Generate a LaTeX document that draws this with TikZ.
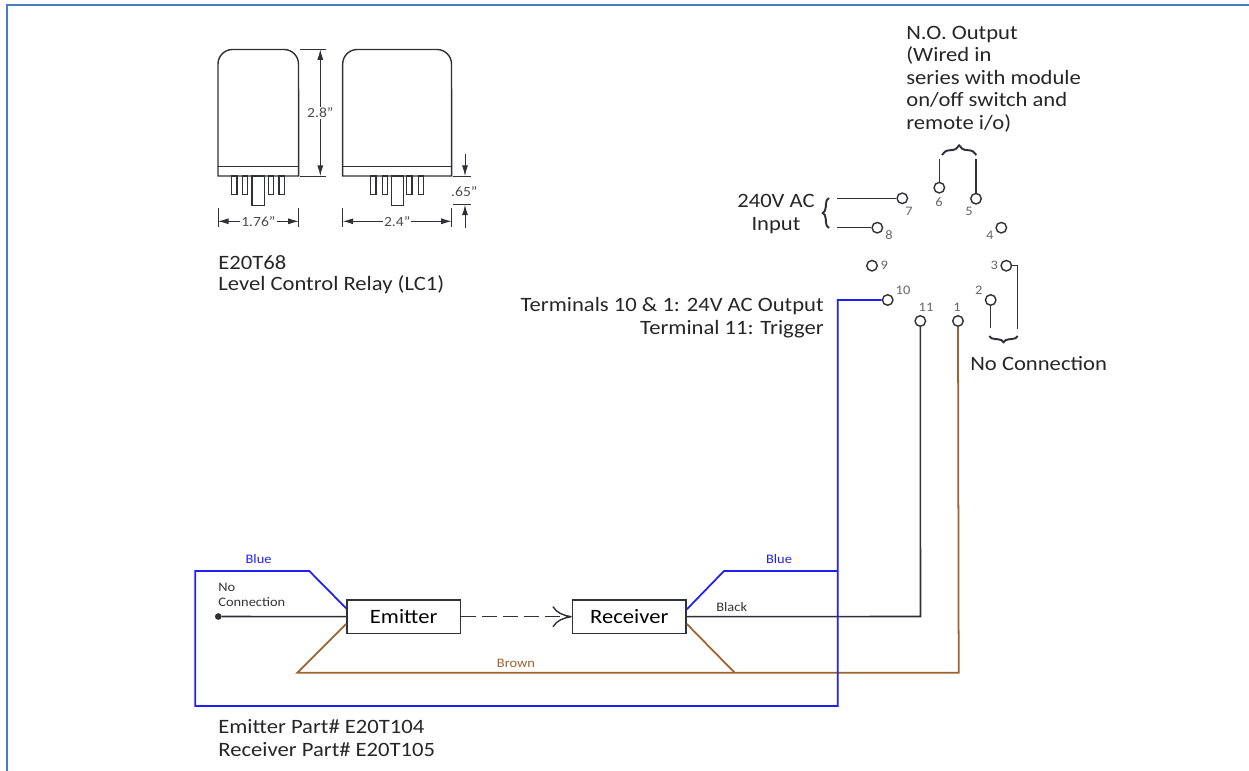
\documentclass[tikz,border=0pt]{standalone}
\usepackage{fontspec}
\setmainfont[FakeStretch=1.11]{Carlito}
\usetikzlibrary{arrows.meta,decorations.pathreplacing}
\definecolor{framecol}{HTML}{4A7EBB}
\definecolor{wireblue}{HTML}{2020F0}
\definecolor{wirebrown}{HTML}{A0622D}
\definecolor{inkcol}{HTML}{303038}
\tikzset{
  wire/.style={line width=0.9pt, color=inkcol},
  bluewire/.style={line width=1pt, color=wireblue},
  brownwire/.style={line width=1pt, color=wirebrown},
  terminal/.style={circle, draw=inkcol, fill=white, line width=0.8pt, minimum size=6pt, inner sep=0pt},
  termnum/.style={font=\fontsize{7.4}{8}\selectfont, color=black!60, inner sep=0pt},
  body/.style={font=\fontsize{11.6}{12.8}\selectfont, color=black!85, inner sep=0pt},
  wirelabel/.style={font=\fontsize{7.4}{8.4}\selectfont, inner sep=0pt},
  unit/.style={draw=inkcol, fill=white, line width=0.9pt, inner sep=0pt, minimum width=64.6pt, minimum height=18.9pt, font=\fontsize{11.6}{13}\selectfont},
  relay/.style={line width=0.8pt, color=inkcol},
  dim/.style={line width=0.5pt, color=inkcol},
  dimarrow/.style={dim, {Latex[length=6pt,width=3.4pt]}-{Latex[length=6pt,width=3.4pt]}},
  dimlabel/.style={font=\fontsize{8}{9}\selectfont, color=black!70, fill=white, inner sep=0.6pt},
  bracket/.style={line width=1.1pt, color=inkcol, decorate}
}
\begin{document}
\begin{tikzpicture}[x=0.02cm, y=-0.02cm]
	%%%%% START %%%%%
	\useasboundingbox (0, 0) rectangle (1249, 771);
	\draw[framecol, line width=1.1pt] (7, 771) -- (7, 5) -- (1249, 5);
	
	% relay outlines
	\draw[relay] (218, 176) -- (218, 64) arc (180:90:14.5 and -14.5) -- (284, 49.5) arc (90:0:14.5 and -14.5) -- (298.7, 176) -- cycle;
	\draw[relay] (218, 166.7) -- (298.7, 166.7);
	\draw[relay] (342.7, 176) -- (342.7, 64) arc (180:90:14.5 and -14.5) -- (437, 49.5) arc (90:0:14.5 and -14.5) -- (451.7, 176) -- cycle;
	\draw[relay] (342.7, 166.7) -- (451.7, 166.7);
	
	% pins
	\foreach \pinx in {231.7, 242.3, 268.3, 279, 370.7, 382.3, 406.7, 418.3}
		\draw[relay] (\pinx, 176) rectangle ({\pinx+5.3}, 194.3);
	\draw[relay] (252, 176) rectangle (264.7, 205.3);
	\draw[relay] (391.3, 176) rectangle (403.3, 205.3);
	
	% dimensions
	\draw[dim] (300, 49.3) -- (326, 49.3);
	\draw[dim] (300, 176) -- (326, 176);
	\draw[dimarrow] (320.3, 49.3) -- node[dimlabel] (heightlabel) {2.8"} (320.3, 176);
	\draw[dim] (218, 207.7) -- (218, 227.3);
	\draw[dim] (298.7, 207.7) -- (298.7, 227.3);
	\draw[dimarrow] (218, 221.3) -- node[dimlabel, pos=0.5] (leftwidth) {1.76"} (298.7, 221.3);
	\draw[dim] (342.7, 207.7) -- (342.7, 227.3);
	\draw[dim] (451.7, 207.7) -- (451.7, 227.3);
	\draw[dimarrow] (342.7, 221.3) -- node[dimlabel, pos=0.5] (rightwidth) {2.4"} (451.7, 221.3);
	\draw[dim] (453.3, 176) -- (470.7, 176);
	\draw[dim] (453.3, 204.7) -- (470.7, 204.7);
	\draw[dim, -{Latex[length=6pt,width=3.4pt]}] (465, 154) -- (465, 176);
	\draw[dim, -{Latex[length=6pt,width=3.4pt]}] (465, 228.3) -- (465, 204.7);
	\node[dimlabel, fill=none] (pinlabel) at (464.3, 191.7) {.65"};
	
	\node[body, anchor=west] (relaytitle) at (218, 263) {E20T68};
	\node[body, anchor=west] (relayname) at (218, 285) {Level Control Relay (LC1)};
	
	% terminals
	\foreach \tname/\tx/\ty/\nx/\ny in {1/958/321/957/307.7, 2/990.7/300/978.7/290, 3/1006.3/265.7/994.3/265, 4/1001.3/227.7/989.7/235, 5/976/198.7/969/211, 6/939.3/187.7/939/201.7, 7/902.3/198.3/909/211, 8/877.3/227.7/889/235, 9/872/265.7/884.3/265, 10/887.7/300/903/290.7, 11/920.3/321/926/307.7}{
		\node[terminal] (t\tname) at (\tx, \ty) {};
		\node[termnum] (n\tname) at (\nx, \ny) {\tname};
	}
	
	% free ends
	\coordinate (in7) at (837.3, 198.3);
	\coordinate (in8) at (837.3, 227.7);
	\coordinate (up6) at (939.3, 159);
	\coordinate (up5) at (976, 159);
	\coordinate (down2) at (990.7, 328);
	\coordinate (down3a) at (1017.3, 265.7);
	\coordinate (down3b) at (1017.3, 328.7);
	\draw[wire] (in7) -- (t7);
	\draw[wire] (in8) -- (t8);
	\draw[wire] (up6) -- (t6);
	\draw[wire] (up5) -- (t5);
	\draw[wire] (down2) -- (t2);
	\draw[wire] (t3) -- (down3a) -- (down3b);
	
	% braces
	\draw[bracket, decoration={brace, amplitude=5.5pt}] (942, 155) -- (976.3, 155);
	\draw[bracket, decoration={brace, amplitude=3.6pt, mirror}] (989.3, 336) -- (1017.7, 336);
	\draw[bracket, decoration={brace, amplitude=3.6pt}] (829, 228) -- (829, 198);
	
	\node[body, align=left, anchor=north west] (nolabel) at (906, 25.5) {N.O. Output\\(Wired in\\series with module\\on/off switch and\\remote i/o)};
	\node[body, align=center] (aclabel) at (776, 214) {240V AC\\Input};
	\node[body, align=right, anchor=east] (outlabel) at (824, 317.5) {Terminals 10 \& 1: 24V AC Output\\Terminal 11: Trigger};
	\node[body, anchor=west] (nclabel) at (970, 364) {No Connection};
	
	% sensors
	\node[unit] (emitter) at (403.7, 616.7) {Emitter};
	\node[unit] (receiver) at (629.3, 616.7) {Receiver};
	\draw[wire, dash pattern=on 8.5pt off 3.4pt, -{To[length=11pt,width=12pt,line width=0.8pt]}] (emitter) -- (receiver);
	
	% wiring
	\node[circle, fill=inkcol, inner sep=0pt, minimum size=3.8pt] (ncdot) at (218.3, 616.5) {};
	\coordinate (bluetl) at (195.3, 571);
	\coordinate (bluebl) at (195.3, 706);
	\coordinate (bluebr) at (837.7, 706);
	\coordinate (bluetr) at (837.7, 300);
	\coordinate (blueknee) at (309.3, 571);
	\coordinate (bluerx) at (724, 571);
	\coordinate (bluejoin) at (837.7, 571);
	\coordinate (brownl) at (297.3, 672.7);
	\coordinate (brownk) at (734.7, 672.7);
	\coordinate (brownr) at (958.7, 672.7);
	\coordinate (blackr) at (920.5, 616.5);
	
	\draw[wire] (ncdot) -- (emitter);
	\draw[wire] (receiver) -- (blackr) -- (t11);
	\draw[brownwire] (emitter.west |- 0, 624) -- (brownl) -- (brownr) -- (t1);
	\draw[brownwire] (receiver.east |- 0, 624) -- (brownk);
	\draw[bluewire] (emitter.west |- 0, 608.3) -- (blueknee) -- (bluetl) -- (bluebl) -- (bluebr) -- (bluetr) -- (t10);
	\draw[bluewire] (receiver.east |- 0, 609.3) -- (bluerx) -- (bluejoin);
	
	\node[wirelabel, color=wireblue] (blueleft) at (258.6, 559.5) {Blue};
	\node[wirelabel, color=wireblue] (blueright) at (779, 559.5) {Blue};
	\node[wirelabel, color=black!80] (blacklabel) at (731.7, 606.7) {Black};
	\node[wirelabel, color=wirebrown] (brownlabel) at (516, 663.5) {Brown};
	\node[wirelabel, color=black!80, align=left, anchor=west] (ncsmall) at (218, 594.5) {No\\Connection};
	
	\node[body, align=left, anchor=west] (parts) at (218, 738) {Emitter Part\# E20T104\\Receiver Part\# E20T105};
	%%%%% END %%%%%
\end{tikzpicture}
\end{document}
